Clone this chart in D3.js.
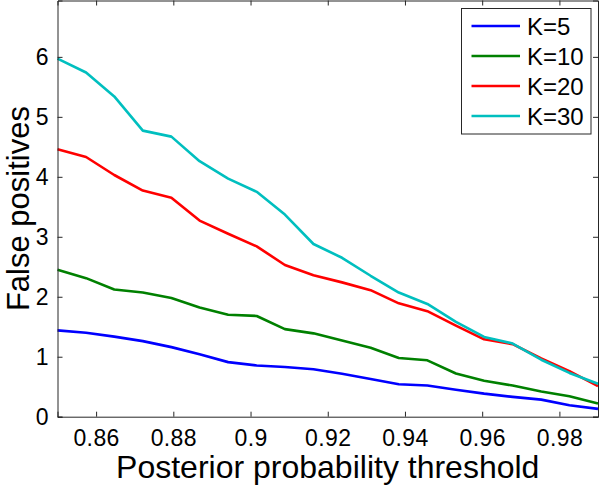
<!DOCTYPE html>
<html>
<head>
<meta charset="utf-8">
<script src="https://cdn.jsdelivr.net/npm/d3@7"></script>
<style>
  body { margin: 0; background: #fff; }
  svg text { font-family: "Liberation Sans", Arial, Helvetica, sans-serif; fill: #000; }
</style>
</head>
<body>
<svg id="chart" width="600" height="485"></svg>
<script>
// thresholds (20 evenly spaced points from 0.85 to 0.99)
const thresholds = [0.85, 0.8574, 0.8647, 0.8721, 0.8795, 0.8868, 0.8942, 0.9016, 0.9089, 0.9163,
                    0.9237, 0.9311, 0.9384, 0.9458, 0.9532, 0.9605, 0.9679, 0.9753, 0.9826, 0.99]
const k5  = [1.44, 1.40, 1.335, 1.26, 1.16, 1.04, 0.91, 0.855, 0.83, 0.79,
             0.715, 0.63, 0.54, 0.52, 0.45, 0.385, 0.33, 0.285, 0.19, 0.13]
const k10 = [2.45, 2.31, 2.12, 2.07, 1.98, 1.82, 1.70, 1.68, 1.46, 1.39,
             1.27, 1.15, 0.98, 0.94, 0.72, 0.60, 0.52, 0.42, 0.34, 0.22]
const k20 = [4.46, 4.33, 4.03, 3.77, 3.65, 3.27, 3.05, 2.84, 2.53, 2.36,
             2.24, 2.11, 1.89, 1.76, 1.52, 1.29, 1.21, 0.97, 0.76, 0.51]
const k30 = [5.97, 5.74, 5.34, 4.77, 4.67, 4.26, 3.97, 3.75, 3.37, 2.88,
             2.65, 2.35, 2.07, 1.88, 1.58, 1.33, 1.22, 0.95, 0.73, 0.55]
const seriesNames = ["K=5", "K=10", "K=20", "K=30"]
const seriesColors = ["#0000ff", "#008000", "#ff0000", "#00bfbf"]
const xTicks = [0.86, 0.88, 0.9, 0.92, 0.94, 0.96, 0.98]
const yTicks = [0, 1, 2, 3, 4, 5, 6]

const series = [k5, k10, k20, k30].map((vals, i) => ({
    name: seriesNames[i],
    color: seriesColors[i],
    values: vals.map((v, j) => ({x: thresholds[j], y: v}))
}))

const svg = d3.select("#chart")
const plotLeft = 57.5, plotRight = 598, plotTop = 0.5, plotBottom = 416.7

const x = d3.scaleLinear().domain([0.85, 0.99]).range([plotLeft, plotRight])
const y = d3.scaleLinear().domain([0, 6.94]).range([plotBottom, plotTop])

const axisColor = "#262626"

// lines
const line = d3.line().x(d => x(d.x)).y(d => y(d.y))
svg.append("g").selectAll("path")
    .data(series)
    .enter().append("path")
    .attr("d", d => line(d.values))
    .attr("fill", "none")
    .attr("stroke", d => d.color)
    .attr("stroke-width", 2.6)
    .attr("stroke-linejoin", "round")

// bottom axis
const xAxis = svg.append("g")
    .attr("transform", "translate(0," + plotBottom + ")")
    .call(d3.axisBottom(x).tickValues(xTicks).tickSize(-5).tickPadding(13)
        .tickFormat(d => String(d)))
xAxis.selectAll("text").attr("font-size", 23).attr("letter-spacing", 0.4).attr("dy", "0.7em")

// top axis (ticks only)
svg.append("g")
    .attr("transform", "translate(0," + plotTop + ")")
    .call(d3.axisTop(x).tickValues(xTicks).tickSize(-5).tickFormat(""))

// left axis
const yAxis = svg.append("g")
    .attr("transform", "translate(" + plotLeft + ",0)")
    .call(d3.axisLeft(y).tickValues(yTicks).tickSize(-5).tickPadding(9)
        .tickFormat(d3.format("d")))
yAxis.selectAll("text").attr("font-size", 23)

// right axis (ticks only)
svg.append("g")
    .attr("transform", "translate(" + plotRight + ",0)")
    .call(d3.axisRight(y).tickValues(yTicks).tickSize(-5).tickFormat(""))

svg.selectAll(".domain, .tick line").attr("stroke", axisColor)

// axis titles
svg.append("text")
    .attr("x", (plotLeft + plotRight) / 2)
    .attr("y", 478)
    .attr("text-anchor", "middle")
    .attr("font-size", 32)
    .text("Posterior probability threshold")

svg.append("text")
    .attr("transform", "translate(29," + (plotTop + plotBottom) / 2 + ") rotate(-90)")
    .attr("text-anchor", "middle")
    .attr("font-size", 31)
    .text("False positives")

// legend
const legend = svg.append("g").attr("transform", "translate(461.5,8.5)")
legend.append("rect")
    .attr("width", 129.5)
    .attr("height", 125.5)
    .attr("fill", "#fff")
    .attr("stroke", axisColor)
const entry = legend.selectAll(".entry")
    .data(series)
    .enter().append("g")
    .attr("transform", (d, i) => "translate(0," + (17.5 + i * 30) + ")")
entry.append("line")
    .attr("x1", 10).attr("x2", 58.5)
    .attr("stroke", d => d.color)
    .attr("stroke-width", 2.6)
entry.append("text")
    .attr("x", 65.5)
    .attr("dy", "0.36em")
    .attr("font-size", 24)
    .text(d => d.name)
</script>
</body>
</html>
